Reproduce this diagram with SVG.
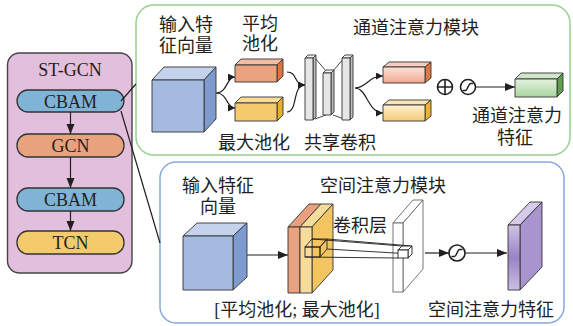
<svg xmlns="http://www.w3.org/2000/svg" width="573" height="326" viewBox="0 0 573 326">
<defs>
<style>
text{font-family:"Liberation Serif","Noto Sans CJK SC",serif;font-size:18px;fill:#231f20;text-anchor:middle}
.ln{stroke:#231f20;stroke-width:1.2;fill:none}
.ar{stroke:#231f20;stroke-width:1.2;fill:none;marker-end:url(#ah)}
.edge{stroke:#333;stroke-width:0.9;stroke-linejoin:round}
.blk{rx:11;ry:11;stroke:#333;stroke-width:1.3}
</style>
<marker id="ah" viewBox="0 0 10 10" refX="10" refY="5" markerWidth="7" markerHeight="7" markerUnits="userSpaceOnUse" orient="auto"><path d="M0,0L10,5L0,10z" fill="#231f20"/></marker>
<marker id="ahb" viewBox="0 0 10 10" refX="10" refY="5" markerWidth="10" markerHeight="10" markerUnits="userSpaceOnUse" orient="auto"><path d="M0,1L10,5L0,9z" fill="#231f20"/></marker>
<linearGradient id="gOr" x1="0" y1="0" x2="0" y2="1"><stop offset="0" stop-color="#fbe2d8"/><stop offset="1" stop-color="#f1a98f"/></linearGradient>
<linearGradient id="gYe" x1="0" y1="0" x2="0" y2="1"><stop offset="0" stop-color="#fdf1d2"/><stop offset="1" stop-color="#f5ca72"/></linearGradient>
<linearGradient id="gGr" x1="0" y1="0" x2="0" y2="1"><stop offset="0" stop-color="#e4f2df"/><stop offset="1" stop-color="#a9d69d"/></linearGradient>
<linearGradient id="gPu" x1="0" y1="0" x2="0" y2="1"><stop offset="0" stop-color="#cfc3e6"/><stop offset="0.5" stop-color="#9883c4"/><stop offset="1" stop-color="#cbbfe4"/></linearGradient>
<path id="sig" d="M-5.5,3.5 H-2.5 C-0.5,3.5 0.5,-3.5 2.5,-3.5 H5.5" fill="none" stroke="#231f20" stroke-width="1.5"/>
</defs>

<!-- panels -->
<g id="panel-stgcn">
<rect x="7.5" y="53" width="124.5" height="220" rx="12" ry="12" fill="#e2c0dd" stroke="#444" stroke-width="1.4"/>
<text x="70" y="76" font-family="'Liberation Serif', serif">ST-GCN</text>
</g>
<g id="panel-channel">
<rect x="136" y="5" width="434" height="150" rx="18" ry="18" fill="#fff" stroke="#9bcf8e" stroke-width="1.5"/>
</g>
<g id="panel-spatial">
<rect x="160" y="162" width="404" height="161" rx="16" ry="16" fill="#fff" stroke="#89a8da" stroke-width="1.5"/>
</g>

<!-- ST-GCN blocks -->
<g id="cbam1"><rect class="blk" x="17" y="90" width="107" height="22" fill="#80b4d6"/><text x="70.5" y="107.5" font-family="'Liberation Serif', serif">CBAM</text></g>
<g id="gcn"><rect class="blk" x="17" y="134" width="107" height="23" fill="#e9a27e"/><text x="70.5" y="152" font-family="'Liberation Serif', serif">GCN</text></g>
<g id="cbam2"><rect class="blk" x="17" y="188" width="107" height="23" fill="#80b4d6"/><text x="70.5" y="206" font-family="'Liberation Serif', serif">CBAM</text></g>
<g id="tcn"><rect class="blk" x="17" y="231" width="107" height="23" fill="#f3ca6c"/><text x="70.5" y="249" font-family="'Liberation Serif', serif">TCN</text></g>

<!-- connectors -->
<g id="connectors">
<line class="ar" x1="70.5" y1="112" x2="70.5" y2="134" style="marker-end:url(#ahb)"/>
<line class="ar" x1="70.5" y1="157" x2="70.5" y2="188" style="marker-end:url(#ahb)"/>
<line class="ar" x1="70.5" y1="211" x2="70.5" y2="231" style="marker-end:url(#ahb)"/>
<line class="ln" x1="121" y1="101" x2="136" y2="84" stroke-width="1"/>
<line class="ln" x1="121" y1="111" x2="160" y2="243" stroke-width="1"/>
<!-- channel module -->
<path class="ar" d="M216,93 C228,93 226,77 235,77"/>
<path class="ar" d="M216,93 C228,93 226,108 235,108"/>
<path class="ar" d="M287,72 C298,72 293,85 305,85"/>
<path class="ar" d="M287,112 C298,112 292,85 305,85"/>
<path class="ar" d="M355,88 C367,88 368,76 383,76"/>
<path class="ar" d="M355,88 C367,88 368,113 383,113"/>
<line class="ar" x1="476" y1="87" x2="515" y2="87" style="marker-end:url(#ahb)"/>
<!-- spatial module -->
<line class="ar" x1="247" y1="255" x2="288" y2="255" style="marker-end:url(#ahb)"/>
<line class="ar" x1="425" y1="253" x2="449" y2="253" style="marker-end:url(#ahb)"/>
<line class="ar" x1="465" y1="253" x2="507" y2="253" style="marker-end:url(#ahb)"/>
</g>

<!-- channel attention contents -->
<g id="ch-input">
<polygon class="edge" points="152,80 204,80 216,67 164,67" fill="#c5d2ec"/>
<polygon class="edge" points="204,80 216,67 216,119 204,132" fill="#7e9bcf"/>
<rect class="edge" x="152" y="80" width="52" height="52" fill="#a5badf"/>
<text x="186" y="31">输入特</text>
<text x="186" y="52">征向量</text>
</g>
<g id="ch-avgpool">
<polygon class="edge" points="235,65 277,65 283,59 241,59" fill="#f2bda4"/>
<polygon class="edge" points="277,65 283,59 283,76 277,82" fill="#d9773f"/>
<rect class="edge" x="235" y="65" width="42" height="17" fill="#eaa27f"/>
<text x="260" y="30">平均</text>
<text x="260" y="50">池化</text>
</g>
<g id="ch-maxpool">
<polygon class="edge" points="235,103 277,103 283,97 241,97" fill="#f8dc98"/>
<polygon class="edge" points="277,103 283,97 283,115 277,121" fill="#e8ad35"/>
<rect class="edge" x="235" y="103" width="42" height="18" fill="#f4ca6c"/>
<text x="254" y="149">最大池化</text>
</g>
<g id="ch-sharedconv">
<line class="edge" x1="315" y1="58" x2="326" y2="71"/>
<line class="edge" x1="315" y1="119" x2="326" y2="115"/>
<line class="edge" x1="333" y1="71" x2="344" y2="58"/>
<line class="edge" x1="333" y1="115" x2="344" y2="119"/>
<polygon class="edge" points="305,58 313,58 316,55 308,55" fill="#f6f6f6"/>
<polygon class="edge" points="313,58 316,55 316,117 313,120" fill="#bdbdbd"/>
<rect class="edge" x="305" y="58" width="8" height="62" fill="#e6e6e6"/>
<polygon class="edge" points="323,73 331,73 334,70 326,70" fill="#f6f6f6"/>
<polygon class="edge" points="331,73 334,70 334,112 331,115" fill="#bdbdbd"/>
<rect class="edge" x="323" y="73" width="8" height="42" fill="#e6e6e6"/>
<polygon class="edge" points="342,58 350,58 353,55 345,55" fill="#f6f6f6"/>
<polygon class="edge" points="350,58 353,55 353,117 350,120" fill="#bdbdbd"/>
<rect class="edge" x="342" y="58" width="8" height="62" fill="#e6e6e6"/>
<text x="340" y="149">共享卷积</text>
</g>
<g id="ch-mlp-avg">
<polygon class="edge" points="383,67 425,67 431,62 389,62" fill="#f7cdbd"/>
<polygon class="edge" points="425,67 431,62 431,78 425,83" fill="#de7843"/>
<rect class="edge" x="383" y="67" width="42" height="16" fill="url(#gOr)"/>
</g>
<g id="ch-mlp-max">
<polygon class="edge" points="383,105 425,105 431,100 389,100" fill="#fbe6b8"/>
<polygon class="edge" points="425,105 431,100 431,116 425,121" fill="#edb133"/>
<rect class="edge" x="383" y="105" width="42" height="16" fill="url(#gYe)"/>
</g>
<text x="416" y="34">通道注意力模块</text>
<g id="ch-sum">
<circle cx="445" cy="87" r="7.5" fill="#fff" stroke="#231f20" stroke-width="1.6"/>
<path d="M437.5,87H452.5M445,79.5V94.5" stroke="#231f20" stroke-width="1.6"/>
</g>
<g id="ch-sigmoid">
<circle cx="468" cy="87" r="7.5" fill="#fff" stroke="#231f20" stroke-width="1.6"/>
<use href="#sig" x="468" y="87"/>
</g>
<g id="ch-output">
<polygon class="edge" points="515,79 557,79 563,73 521,73" fill="#cfe8c7"/>
<polygon class="edge" points="557,79 563,73 563,91 557,97" fill="#5e9f4f"/>
<rect class="edge" x="515" y="79" width="42" height="18" fill="url(#gGr)"/>
<text x="517" y="122">通道注意力</text>
<text x="515" y="144">特征</text>
</g>

<!-- spatial attention contents -->
<g id="sp-input">
<polygon class="edge" points="183,236 233,236 247,223 197,223" fill="#c5d2ec"/>
<polygon class="edge" points="233,236 247,223 247,277 233,290" fill="#7e9bcf"/>
<rect class="edge" x="183" y="236" width="50" height="54" fill="#a5badf"/>
<text x="218" y="192">输入特征</text>
<text x="218" y="213">向量</text>
</g>
<text x="383" y="192">空间注意力模块</text>
<g id="sp-pooled">
<polygon class="edge" points="288,227 300,227 321,204 309,204" fill="#e8a07e"/>
<polygon class="edge" points="300,227 312,227 333,204 321,204" fill="#f6dc9b"/>
<polygon class="edge" points="312,227 333,204 333,270 312,293" fill="#f2c561"/>
<rect class="edge" x="288" y="227" width="12" height="66" fill="#e9a27f"/>
<rect class="edge" x="300" y="227" width="12" height="66" fill="#f6dc9b"/>
<g fill="none" stroke="#231f20" stroke-width="0.9">
<polygon points="305,247 320,247 327,239 312,239"/>
<polygon points="320,247 327,239 327,249 320,257"/>
<rect x="305" y="247" width="15" height="10"/>
</g>
<text x="297" y="316">[平均池化; 最大池化]</text>
</g>
<g id="sp-conv">
<polygon points="393,223 403,223 423,200 413,200" fill="#fff" stroke="#666" stroke-width="0.9"/>
<polygon points="403,223 423,200 423,269 403,292" fill="#fff" stroke="#666" stroke-width="0.9"/>
<rect x="393" y="223" width="10" height="69" fill="#fff" stroke="#666" stroke-width="0.9"/>
<g fill="none" stroke="#231f20" stroke-width="0.9">
<line x1="312" y1="239" x2="402" y2="246"/>
<line x1="327" y1="239" x2="412" y2="246"/>
<line x1="327" y1="249" x2="412" y2="254"/>
<line x1="305" y1="257" x2="398" y2="258"/>
<polygon points="398,250 408,250 412,246 402,246" fill="#fff"/>
<polygon points="408,250 412,246 412,254 408,258" fill="#fff"/>
<rect x="398" y="250" width="10" height="8" fill="#fff"/>
</g>
<text x="360" y="232">卷积层</text>
</g>
<g id="sp-sigmoid">
<circle cx="457" cy="253" r="8" fill="#fff" stroke="#231f20" stroke-width="1.6"/>
<use href="#sig" x="457" y="253"/>
</g>
<g id="sp-output">
<polygon class="edge" points="508,225 520,225 542,202 530,202" fill="#d6cbea"/>
<polygon class="edge" points="520,225 542,202 542,267 520,290" fill="#a994d0"/>
<rect class="edge" x="508" y="225" width="12" height="65" fill="url(#gPu)"/>
<text x="491" y="316">空间注意力特征</text>
</g>
</svg>
